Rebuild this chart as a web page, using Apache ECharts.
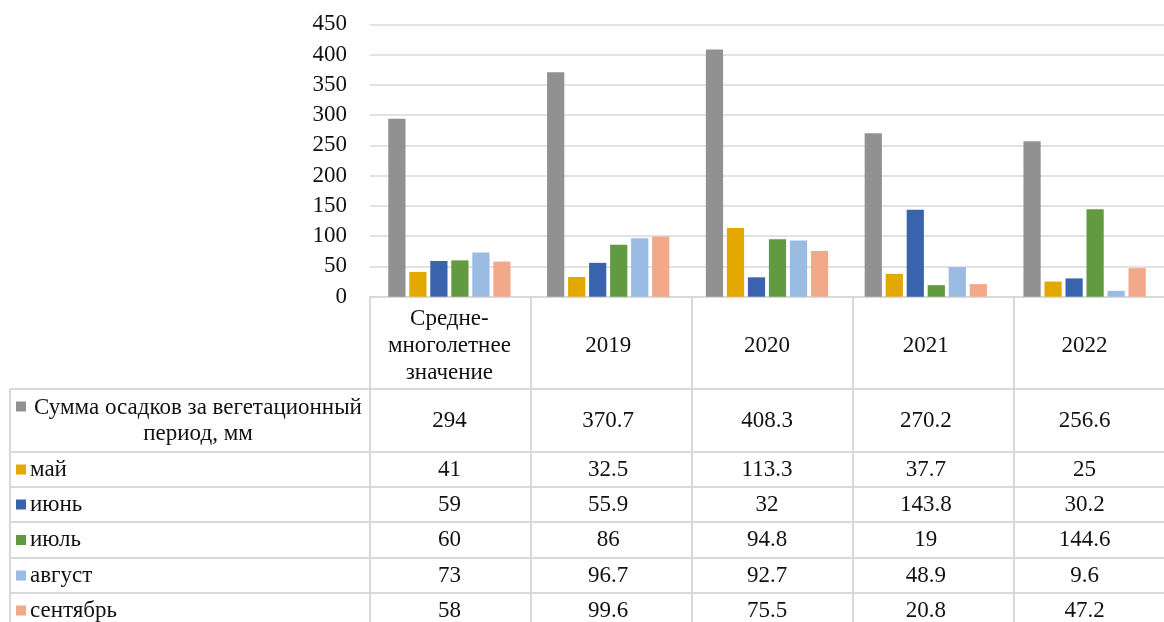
<!DOCTYPE html>
<html>
<head>
<meta charset="utf-8">
<script src="https://cdn.jsdelivr.net/npm/echarts@6/dist/echarts.min.js"></script>
<style>
  html, body { margin: 0; padding: 0; background: #fff; }
  #chart { width: 1164px; height: 622px; }
</style>
</head>
<body>
<div id="chart"></div>
<script>
// Precipitation during the growing season, mm
const categories = ['Средне-\nмноголетнее\nзначение', '2019', '2020', '2021', '2022'];
const seriesNames = ['Сумма осадков за вегетационный период, мм', 'май', 'июнь', 'июль', 'август', 'сентябрь'];
const rowLabels = ['Сумма осадков за вегетационный\nпериод, мм', 'май', 'июнь', 'июль', 'август', 'сентябрь'];
const totalSeason = [294, 370.7, 408.3, 270.2, 256.6];
const may = [41, 32.5, 113.3, 37.7, 25];
const june = [59, 55.9, 32, 143.8, 30.2];
const july = [60, 86, 94.8, 19, 144.6];
const august = [73, 96.7, 92.7, 48.9, 9.6];
const september = [58, 99.6, 75.5, 20.8, 47.2];
const yTicks = [0, 50, 100, 150, 200, 250, 300, 350, 400, 450];

const seriesData = [totalSeason, may, june, july, august, september];
const colors = ['#919191', '#e3a900', '#3a63ad', '#629a41', '#9abce3', '#f2a98a'];

const FONT = '"Liberation Serif", "Times New Roman", serif';
const FS = 23;
const LINE = '#d9d9d9';
const TEXT = '#111';

const chart = echarts.init(document.getElementById('chart'));

const gridLeft = 370, gridTop = 24.3, gridHeight = 272.4, colWidth = 161;

chart.setOption({
  animation: false,
  textStyle: { fontFamily: FONT },
  grid: { left: gridLeft, top: gridTop, height: gridHeight, width: colWidth * categories.length },
  xAxis: {
    type: 'category',
    data: categories,
    axisLine: { show: true, lineStyle: { color: LINE, width: 2 } },
    axisTick: { show: false },
    axisLabel: {
      interval: 0,
      margin: 49,
      verticalAlign: 'middle',
      fontFamily: FONT,
      fontSize: FS,
      lineHeight: 27,
      color: TEXT
    }
  },
  yAxis: {
    type: 'value',
    min: yTicks[0],
    max: yTicks[yTicks.length - 1],
    interval: 50,
    axisLine: { show: false },
    axisTick: { show: false },
    axisLabel: { margin: 23, fontFamily: FONT, fontSize: FS, color: TEXT },
    splitLine: { lineStyle: { color: LINE, width: 1.5 } }
  },
  series: seriesNames.map((name, i) => ({
    name: name,
    type: 'bar',
    data: seriesData[i],
    barGap: '22%',
    barCategoryGap: '23%',
    itemStyle: { color: colors[i] }
  }))
});

// Data table under the plot
const tableLeft = 10;
const headerTop = gridTop + gridHeight;
const rowBounds = [389, 452, 487, 522, 558, 593, 628];
const rightEdge = gridLeft + colWidth * categories.length;

const elements = [];
const line = (x1, y1, x2, y2) => ({
  type: 'line', silent: true,
  shape: { x1: x1, y1: y1, x2: x2, y2: y2 },
  style: { stroke: LINE, lineWidth: 2 }
});

// vertical column boundaries
for (let i = 0; i <= categories.length; i++) {
  const x = gridLeft + colWidth * i;
  elements.push(line(x, headerTop, x, 622));
}
elements.push(line(tableLeft, rowBounds[0], tableLeft, 622));
// horizontal row boundaries
rowBounds.forEach(y => elements.push(line(tableLeft, y, rightEdge, y)));

seriesNames.forEach((name, r) => {
  const top = rowBounds[r], bottom = rowBounds[r + 1];
  const cy = (top + bottom) / 2;
  const multi = rowLabels[r].indexOf('\n') >= 0;
  const keyY = multi ? cy - 14 : cy;
  elements.push({
    type: 'rect', silent: true,
    shape: { x: 16, y: keyY - 5, width: 10, height: 10 },
    style: { fill: colors[r] }
  });
  elements.push({
    type: 'text', silent: true,
    style: {
      text: rowLabels[r],
      x: multi ? 198 : 30,
      y: cy,
      align: multi ? 'center' : 'left',
      verticalAlign: 'middle',
      font: FS + 'px ' + FONT,
      lineHeight: 26,
      fill: TEXT
    }
  });
  seriesData[r].forEach((v, c) => {
    const cx = chart.convertToPixel({ xAxisIndex: 0 }, c);
    elements.push({
      type: 'text', silent: true,
      style: {
        text: String(v),
        x: cx,
        y: cy,
        align: 'center',
        verticalAlign: 'middle',
        font: FS + 'px ' + FONT,
        fill: TEXT
      }
    });
  });
});

chart.setOption({ graphic: { elements: elements } });
</script>
</body>
</html>
